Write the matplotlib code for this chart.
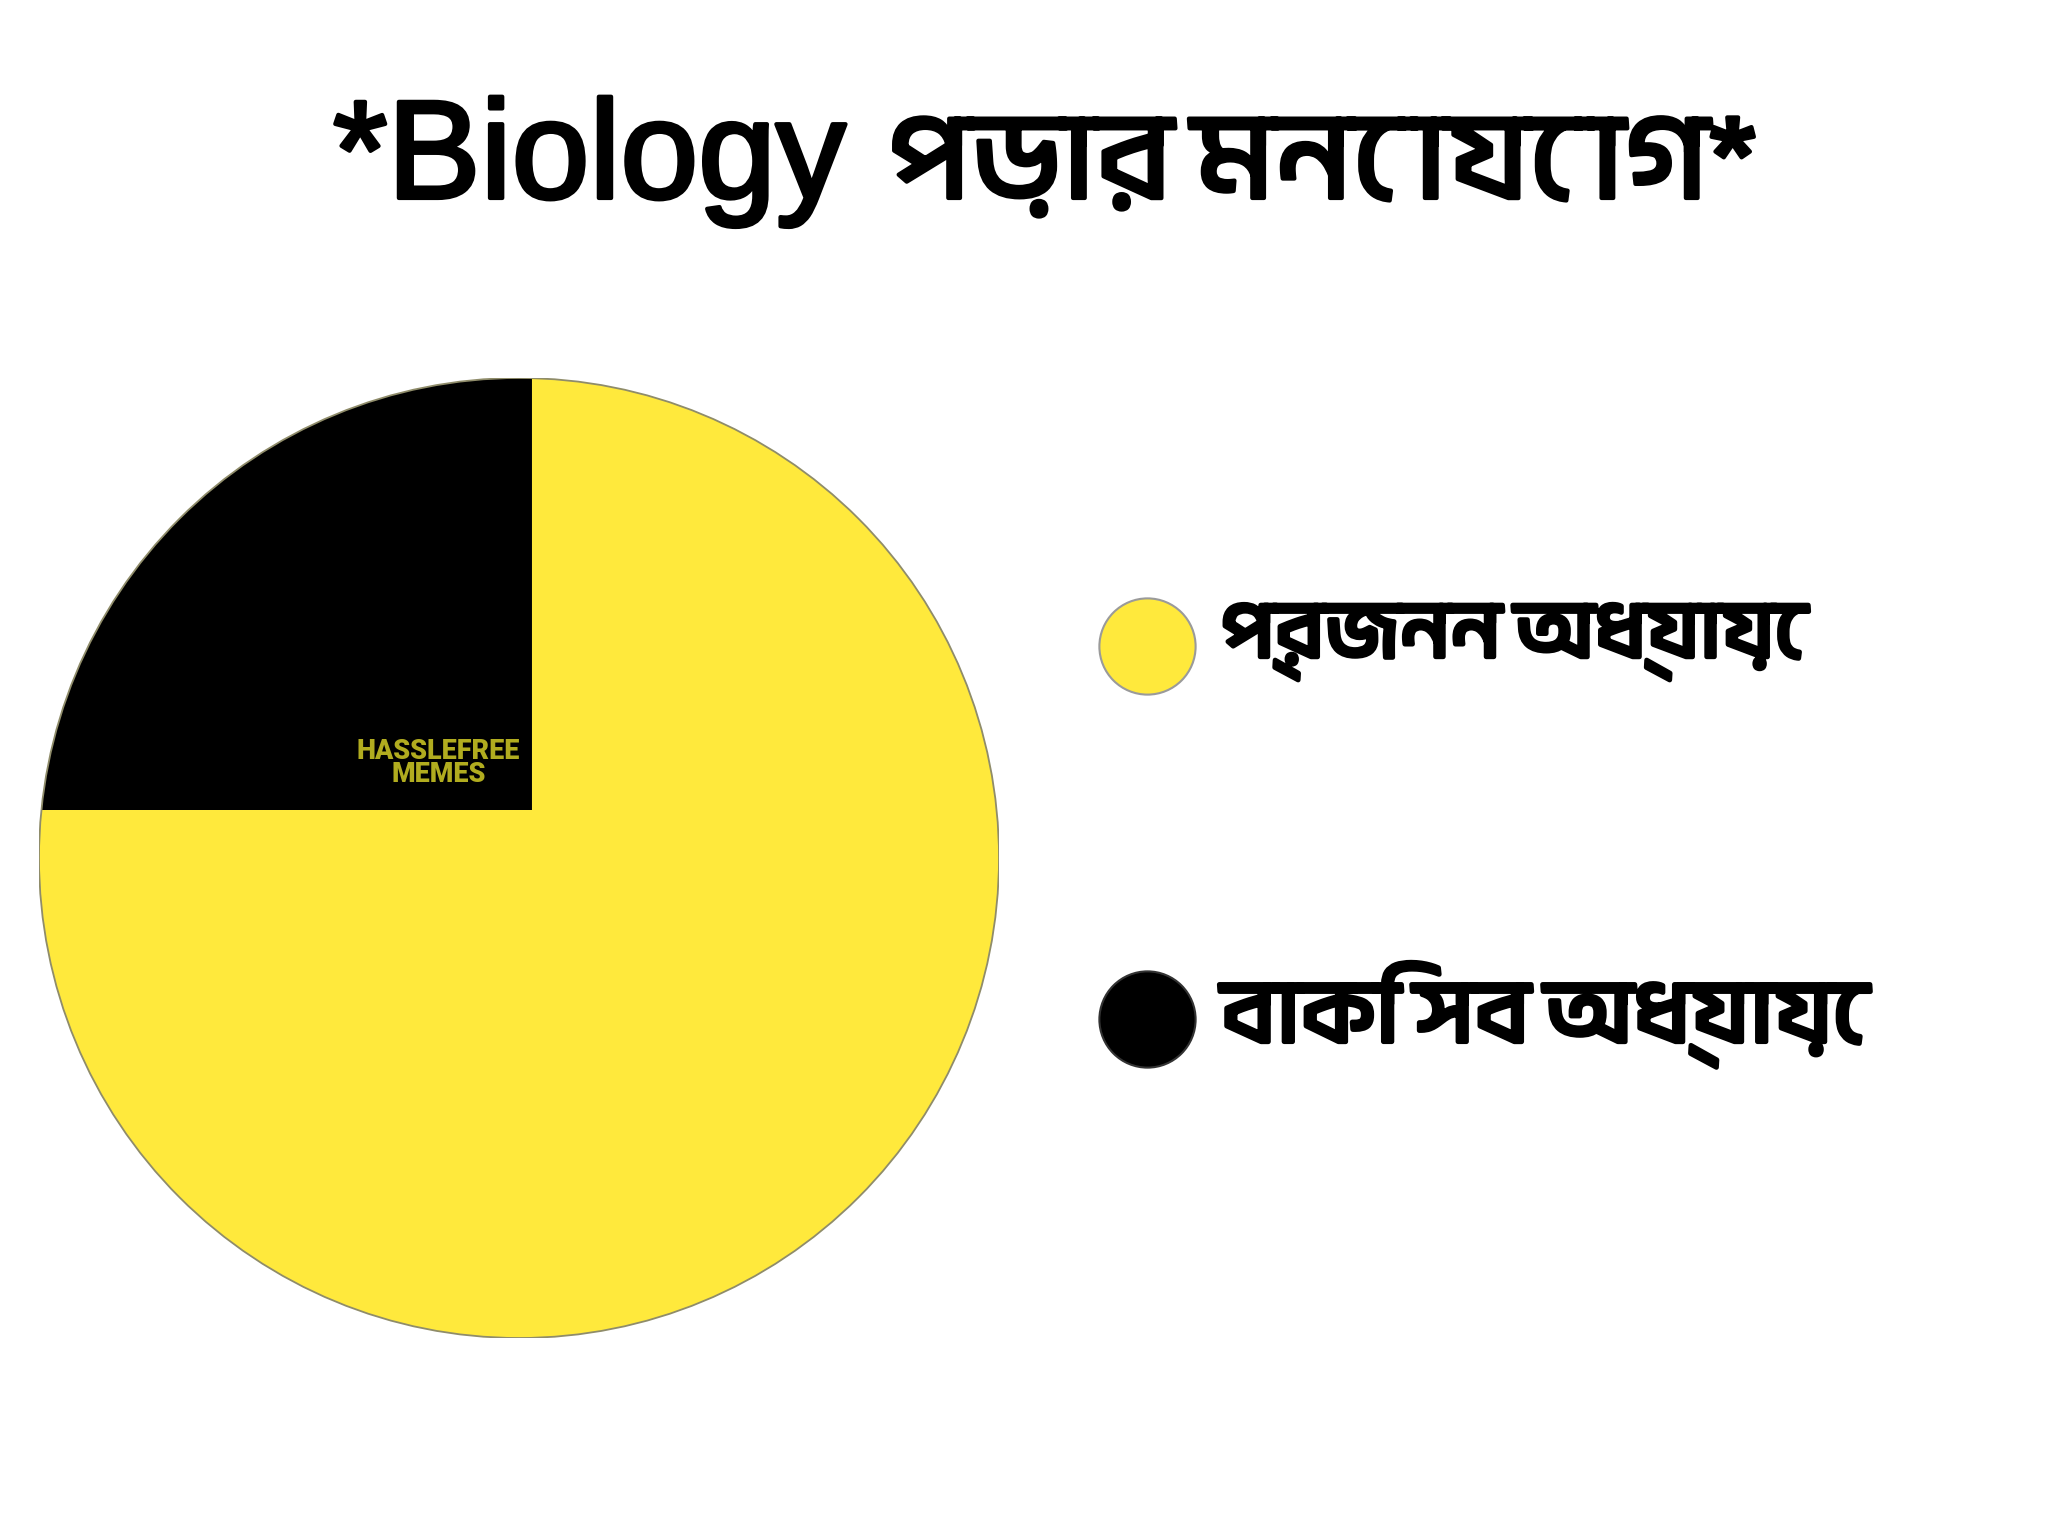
import matplotlib
matplotlib.use("Agg")
import matplotlib.pyplot as plt
import matplotlib.patheffects as pe
from matplotlib import font_manager
from matplotlib.ft2font import FT2Font
from matplotlib.patches import Circle

# chart data
title_text = "*Biology পড়ার মনোযোগ*"
labels = ["প্রজনন অধ্যায়ে", "বাকি সব অধ্যায়ে"]
shares = [75, 25]
colors = ["#FFE93C", "#000000"]
watermark = "HASSLEFREE\nMEMES"


def find_bengali_font():
    # fonts with Bengali glyphs; bitmap-style ones go last
    found = []
    for f in font_manager.fontManager.ttflist:
        try:
            if 0x09AA in FT2Font(f.fname).get_charmap():
                found.append(f)
        except Exception:
            pass
    if not found:
        return None

    def rank(f):
        n = (f.name + " " + f.fname).lower()
        if "unifont" in n or "bitmap" in n:
            return 9
        if "bengali" in n or "bangla" in n:
            return 0 if f.weight in ("bold", 700) else 1
        if "lohit" in n or "mukti" in n or "solaiman" in n:
            return 2
        return 5

    found.sort(key=rank)
    return found[0].name


bn = find_bengali_font()
bn_fam = ([bn] if bn else []) + ["Noto Sans", "DejaVu Sans"]

fig = plt.figure(figsize=(20.48, 15.36), dpi=100, facecolor="white")
renderer = fig.canvas.get_renderer()


def fit_width(t, target_px):
    # scale a text so its drawn width matches the original
    w = t.get_window_extent(renderer).width
    if w > 0:
        t.set_fontsize(t.get_fontsize() * target_px / w)


# pie
ax = fig.add_axes([39 / 2048, 1 - 1338 / 1536, 960 / 2048, 960 / 1536])
ax.set_aspect("equal")
ax.axis("off")

base = Circle((0, 0), 1.0, facecolor=colors[0], edgecolor="none", zorder=1)
ax.add_patch(base)
wedges, _ = ax.pie(shares, colors=colors, startangle=90, counterclock=False,
                   radius=1.0, wedgeprops=dict(linewidth=0))
for w in wedges:
    w.set_zorder(2)
# black slice: corner sits slightly up-right of the centre in the original
wedges[1].set_center((0.027, 0.10))
wedges[1].set_radius(1.3)
wedges[1].set_clip_path(base)
wedges[1].set_clip_on(True)
ax.add_patch(Circle((0, 0), 1.0, facecolor="none", edgecolor="#8f8c6a",
                    linewidth=1.3, zorder=4))
ax.set_xlim(-1.0, 1.0)
ax.set_ylim(-1.0, 1.0)

wm = ax.text(-0.168, 0.198, watermark, ha="center", va="center", color="#b1ac1f",
             fontsize=19, fontweight="heavy", linespacing=0.85,
             family=["Roboto", "DejaVu Sans"], zorder=3)
fit_width(wm, 162)

# title: latin part in an Arial-like face, bengali part in the bengali face
lat, beng = title_text.split(" ", 1)
tb = 1 - 198 / 1536
stroke = [pe.withStroke(linewidth=3, foreground="black")]
t1 = fig.text(333 / 2048, tb, lat, ha="left", va="baseline", fontsize=100,
              family=["Liberation Sans", "DejaVu Sans"], color="black",
              path_effects=stroke)
fit_width(t1, 513)
t2 = fig.text(888 / 2048, tb, beng, ha="left", va="baseline", fontsize=100,
              family=bn_fam, color="black", path_effects=stroke)
fit_width(t2, 869)

# legend drawn on an overlay in pixel units
lg = fig.add_axes([0, 0, 1, 1], facecolor="none")
lg.set_xlim(0, 2048)
lg.set_ylim(1536, 0)
lg.axis("off")
leg_y = [646, 1019]
label_w = [581, 642]
for i, lab in enumerate(labels):
    lg.scatter([1147], [leg_y[i]], s=4800, color=colors[i],
               edgecolors="#9a9a9a" if i == 0 else "#333333", linewidths=1.5)
    t = lg.text(1221, leg_y[i] - 4, lab, ha="left", va="center", fontsize=72,
                family=bn_fam, color="black", fontweight="bold",
                path_effects=[pe.withStroke(linewidth=3.5, foreground="black")])
    fit_width(t, label_w[i])

fig.savefig("out.png", dpi=100, facecolor="white")
